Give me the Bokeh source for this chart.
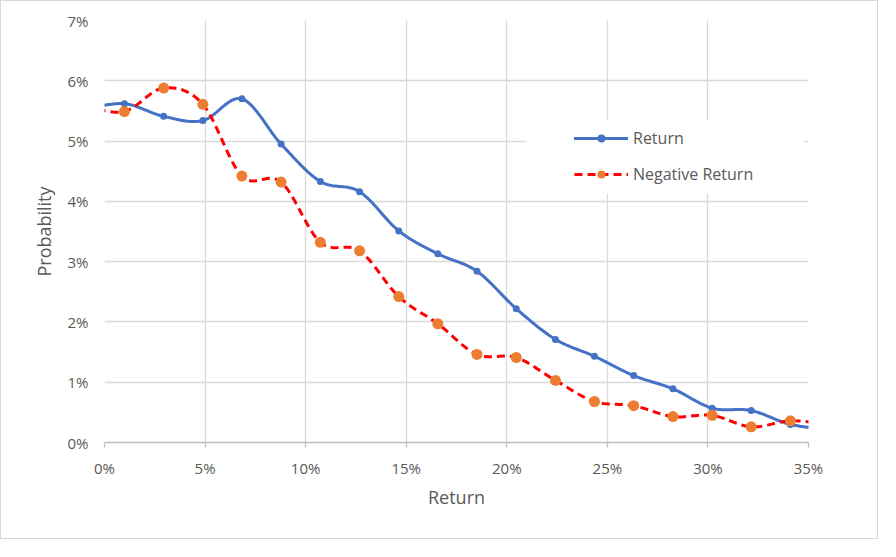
import numpy as np
from bokeh.plotting import figure
from bokeh.models import (Range1d, FixedTicker, PrintfTickFormatter, Legend, LegendItem,
                          BoxAnnotation)
from bokeh.embed import file_html
from bokeh.resources import INLINE

# ---- data (percent units) ----
returns = [-0.96, 0.99, 2.94, 4.89, 6.83, 8.78, 10.73, 12.68, 14.63, 16.57, 18.52,
           20.47, 22.42, 24.36, 26.31, 28.26, 30.21, 32.15, 34.10, 36.05]
prob_return = [5.53, 5.62, 5.41, 5.34, 5.70, 4.95, 4.33, 4.16, 3.51, 3.13, 2.84,
               2.22, 1.71, 1.43, 1.11, 0.89, 0.57, 0.53, 0.30, 0.22]
prob_negative = [5.58, 5.49, 5.88, 5.61, 4.42, 4.32, 3.32, 3.18, 2.42, 1.97, 1.46,
                 1.41, 1.03, 0.68, 0.61, 0.43, 0.45, 0.26, 0.36, 0.30]
x_ticks = [0, 5, 10, 15, 20, 25, 30, 35]
y_ticks = [0, 1, 2, 3, 4, 5, 6, 7]

FONT = "Open Sans"
TXT = "#595959"
GRID = "#D9D9D9"
BLUE = "#4472C4"
ORANGE = "#ED7D31"
RED = "#FF0000"


def smooth(xs, ys, n=24):
    """Excel-style smoothed line (Catmull-Rom Bezier) through the data points."""
    P = np.column_stack([xs, ys]).astype(float)
    out = [P[0]]
    t = np.linspace(0, 1, n)[1:, None]
    for i in range(len(P) - 1):
        p0 = P[i - 1] if i > 0 else P[i]
        p1, p2 = P[i], P[i + 1]
        p3 = P[i + 2] if i + 2 < len(P) else P[i + 1]
        c1 = p1 + (p2 - p0) / 6.0
        c2 = p2 - (p3 - p1) / 6.0
        B = ((1 - t) ** 3) * p1 + 3 * ((1 - t) ** 2) * t * c1 + 3 * (1 - t) * t ** 2 * c2 + t ** 3 * p2
        out.extend(B)
    out = np.array(out)
    return out[:, 0], out[:, 1]


p = figure(width=878, height=539, output_backend="svg", toolbar_location=None,
           x_range=Range1d(0, 35), y_range=Range1d(0, 7),
           min_border_left=103, min_border_right=71, min_border_top=19, min_border_bottom=98)
p.styles = {"border": "1px solid #D9D9D9"}
p.outline_line_color = None
p.background_fill_color = "white"
p.border_fill_color = "white"

# grids
p.xgrid.ticker = FixedTicker(ticks=x_ticks)
p.ygrid.ticker = FixedTicker(ticks=y_ticks)
for g in (p.xgrid, p.ygrid):
    g.grid_line_color = GRID
    g.grid_line_width = 1.3

# x axis
xa = p.xaxis[0]
xa.ticker = FixedTicker(ticks=x_ticks)
xa.formatter = PrintfTickFormatter(format="%d%%")
xa.axis_line_color = "#BFBFBF"
xa.axis_line_width = 1.3
xa.major_tick_line_color = "#BFBFBF"
xa.major_tick_line_width = 1.3
xa.major_tick_out = 5
xa.major_tick_in = 0
xa.minor_tick_line_color = None
xa.major_label_text_font = FONT
xa.major_label_text_font_size = "15px"
xa.major_label_text_color = TXT
xa.major_label_standoff = 10
xa.axis_label = "Return"
xa.axis_label_text_font = FONT
xa.axis_label_text_font_size = "18px"
xa.axis_label_text_font_style = "normal"
xa.axis_label_text_color = TXT
xa.axis_label_standoff = 4

# y axis
ya = p.yaxis[0]
ya.ticker = FixedTicker(ticks=y_ticks)
ya.formatter = PrintfTickFormatter(format="%d%%")
ya.axis_line_color = None
ya.major_tick_line_color = None
ya.minor_tick_line_color = None
ya.major_tick_out = 0
ya.major_tick_in = 0
ya.major_label_text_font = FONT
ya.major_label_text_font_size = "15px"
ya.major_label_text_color = TXT
ya.major_label_standoff = 16
ya.axis_label = "Probability"
ya.axis_label_text_font = FONT
ya.axis_label_text_font_size = "18px"
ya.axis_label_text_font_style = "normal"
ya.axis_label_text_color = TXT
ya.axis_label_standoff = 9

# series
bx, by = smooth(returns, prob_return)
rx, ry = smooth(returns, prob_negative)

l1 = p.line(bx, by, line_color=BLUE, line_width=3, line_cap="round", line_join="round")
m1 = p.scatter(returns, prob_return, size=7, fill_color=BLUE, line_color=BLUE, line_width=0)
l2 = p.line(rx, ry, line_color=RED, line_width=3, line_dash="8 5", line_cap="butt")
m2 = p.scatter(returns, prob_negative, size=11, fill_color=ORANGE, line_color=ORANGE, line_width=0)

# legend background (white box hiding gridlines)
bg = BoxAnnotation(left=524, right=802, top=118, bottom=191,
                   left_units="canvas", right_units="canvas",
                   top_units="canvas", bottom_units="canvas",
                   fill_color="white", fill_alpha=1.0, line_color=None)
p.add_layout(bg)

legend = Legend(items=[LegendItem(label="Return", renderers=[l1, m1]),
                       LegendItem(label="Negative Return", renderers=[l2, m2])],
                location=(470, 257), orientation="vertical")
legend.background_fill_alpha = 0
legend.border_line_color = None
legend.padding = 0
legend.margin = 0
legend.spacing = 14
legend.glyph_width = 54
legend.glyph_height = 20
legend.label_height = 20
legend.label_standoff = 5
legend.label_text_font = FONT
legend.label_text_font_size = "16px"
legend.label_text_color = TXT
legend.label_text_baseline = "middle"
p.add_layout(legend)

open("out.html", "w").write(file_html(p, INLINE))
